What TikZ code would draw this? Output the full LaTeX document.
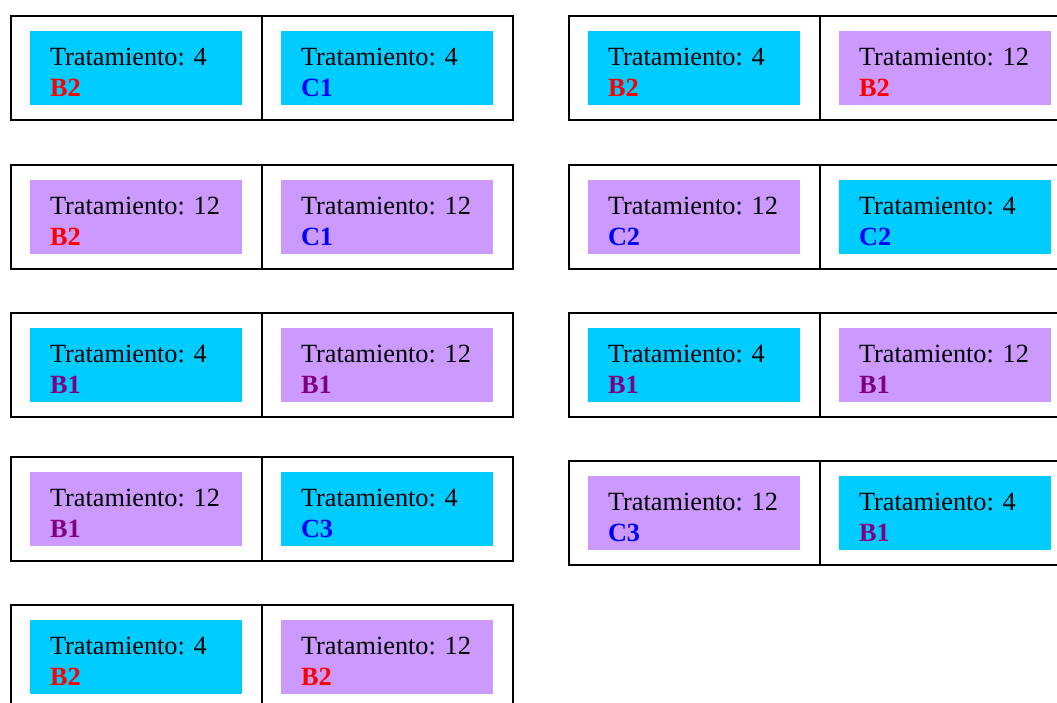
\documentclass[tikz,border=0pt]{standalone}
\usepackage{fontspec}
\setmainfont{Liberation Serif}
\usetikzlibrary{calc}
\definecolor{cyanbox}{HTML}{00CCFF}
\definecolor{lilac}{HTML}{CC99FF}
\definecolor{labred}{HTML}{FF0000}
\definecolor{labblue}{HTML}{0000FF}
\definecolor{labpurple}{HTML}{800080}
\tikzset{
  cellbox/.style={draw=black, line width=1.4pt, minimum width=251pt, minimum height=104pt, inner sep=0pt, outer sep=0pt, anchor=north west},
  inbox/.style={draw=none, minimum width=212pt, minimum height=74pt, inner sep=0pt, outer sep=0pt, anchor=north west},
  txt/.style={inner sep=0pt, outer sep=0pt, anchor=base west, font=\fontsize{26.3}{31}\selectfont},
  lab/.style={inner sep=0pt, outer sep=0pt, anchor=base west, font=\fontsize{26.3}{31}\selectfont\bfseries}
}
\newcommand\mycell[7]{%
  \node[cellbox] (#1o) at (#2,#3) {};
  \node[inbox, fill=#4] (#1i) at ($(#1o.north west)+(19,15)$) {};
  \node[txt] (#1t) at ($(#1i.north west)+(20,34)$) {Tratamiento: #5};
  \node[lab, text=#6] (#1l) at ($(#1t.base west)+(0,31)$) {#7};
}
\begin{document}
\begin{tikzpicture}[x=1pt,y=-1pt]
\useasboundingbox (0,0) rectangle (1057,702);
\clip (0,0) rectangle (1057,702);
% left column
\mycell{aa}{11}{16}{cyanbox}{4}{labred}{B2}
\mycell{ab}{262}{16}{cyanbox}{4}{labblue}{C1}
\mycell{ba}{11}{165}{lilac}{12}{labred}{B2}
\mycell{bb}{262}{165}{lilac}{12}{labblue}{C1}
\mycell{ca}{11}{313}{cyanbox}{4}{labpurple}{B1}
\mycell{cb}{262}{313}{lilac}{12}{labpurple}{B1}
\mycell{da}{11}{457}{lilac}{12}{labpurple}{B1}
\mycell{db}{262}{457}{cyanbox}{4}{labblue}{C3}
\mycell{ea}{11}{605}{cyanbox}{4}{labred}{B2}
\mycell{eb}{262}{605}{lilac}{12}{labred}{B2}
% right column
\mycell{fa}{569}{16}{cyanbox}{4}{labred}{B2}
\mycell{fb}{820}{16}{lilac}{12}{labred}{B2}
\mycell{ga}{569}{165}{lilac}{12}{labblue}{C2}
\mycell{gb}{820}{165}{cyanbox}{4}{labblue}{C2}
\mycell{ha}{569}{313}{cyanbox}{4}{labpurple}{B1}
\mycell{hb}{820}{313}{lilac}{12}{labpurple}{B1}
\mycell{ia}{569}{461}{lilac}{12}{labblue}{C3}
\mycell{ib}{820}{461}{cyanbox}{4}{labpurple}{B1}
\end{tikzpicture}
\end{document}
